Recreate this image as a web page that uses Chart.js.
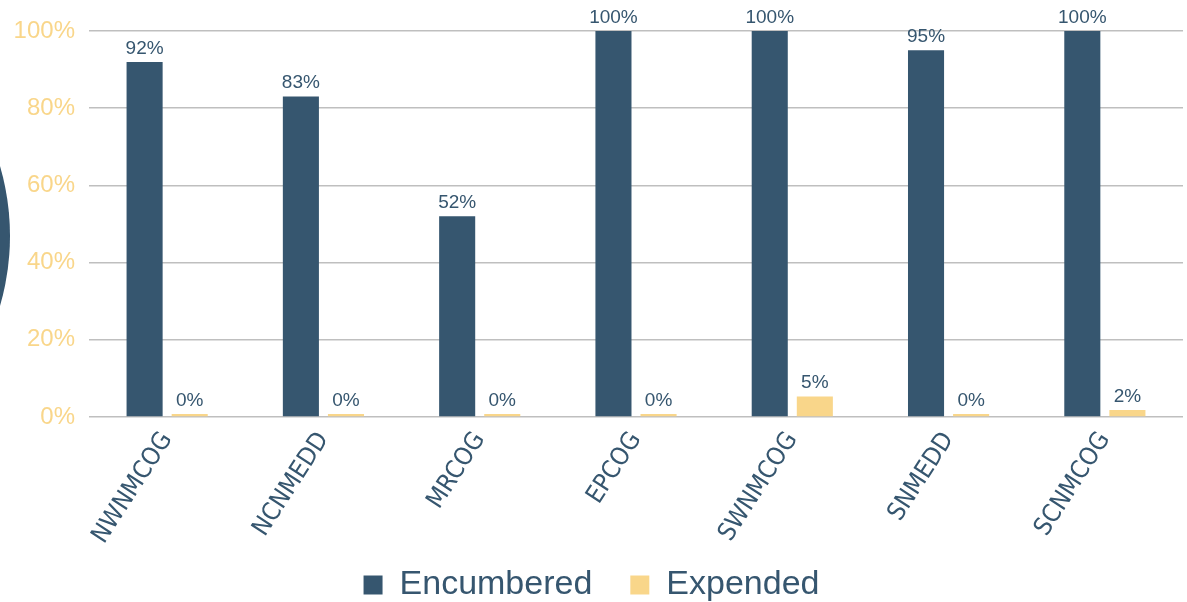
<!DOCTYPE html>
<html>
<head>
<meta charset="utf-8">
<script src="https://cdn.jsdelivr.net/npm/chart.js@4.4.0/dist/chart.umd.min.js"></script>
<style>
  html, body { margin: 0; padding: 0; background: #fff; overflow: hidden; }
  #wrap { position: relative; width: 1187px; height: 602px; overflow: hidden; }
  /* slide decoration peeking in at the left edge */
  #ring { position: absolute; width: 500px; height: 500px; border-radius: 50%;
          background: #36566F; left: -490px; top: -14px; }
  #chartCanvas { position: absolute; left: 0; top: 0; }
</style>
</head>
<body>
<div id="wrap">
  <div id="ring"></div>
  <canvas id="chartCanvas" width="1187" height="612"></canvas>
</div>
<script>
// Chart data
const categories = ['NWNMCOG', 'NCNMEDD', 'MRCOG', 'EPCOG', 'SWNMCOG', 'SNMEDD', 'SCNMCOG'];
const encumbered = [92, 83, 52, 100, 100, 95, 100];
const expended = [0.49, 0.49, 0.49, 0.49, 5.3, 0.49, 1.8];
const yTicks = [0, 20, 40, 60, 80, 100];

const DARK = '#36566F';
const GOLD = '#F9D68A';
const FONT = '"Liberation Sans", Arial, sans-serif';
const NARROW = '"DejaVu Sans Condensed", "Liberation Sans", sans-serif';

// Draw value labels above each bar
const valueLabels = {
  id: 'valueLabels',
  afterDatasetsDraw(chart) {
    const ctx = chart.ctx;
    ctx.save();
    ctx.font = '19px ' + FONT;
    ctx.fillStyle = DARK;
    ctx.textAlign = 'center';
    ctx.textBaseline = 'bottom';
    chart.data.datasets.forEach((ds, i) => {
      chart.getDatasetMeta(i).data.forEach((bar, j) => {
        ctx.fillText(Math.round(ds.data[j]) + '%', bar.x, bar.y - 4);
      });
    });
    ctx.restore();
  }
};

try {
  const ctx = document.querySelector('#chartCanvas').getContext('2d');
  new Chart(ctx, {
    type: 'bar',
    data: {
      labels: categories,
      datasets: [
        { label: 'Encumbered', data: encumbered, backgroundColor: DARK },
        { label: 'Expended', data: expended, backgroundColor: GOLD, minBarLength: 3 }
      ]
    },
    options: {
      responsive: false,
      animation: false,
      devicePixelRatio: 1,
      layout: { padding: { top: 31, right: 4, left: 0, bottom: 0 } },
      datasets: { bar: { categoryPercentage: 0.577, barPercentage: 0.8 } },
      plugins: {
        tooltip: { enabled: false },
        legend: {
          position: 'bottom',
          labels: {
            color: DARK,
            font: { family: FONT, size: 34 },
            boxWidth: 19,
            boxHeight: 19,
            padding: 4,
            generateLabels(chart) {
              const items = Chart.defaults.plugins.legend.labels.generateLabels(chart);
              // a little air between the two entries
              items[0].text += '\u2002\u2002';
              return items;
            }
          }
        }
      },
      scales: {
        x: {
          grid: { display: false },
          border: { display: false },
          ticks: {
            color: DARK,
            font: { family: NARROW, size: 25 },
            minRotation: 57,
            maxRotation: 57,
            padding: 2
          },
          afterFit(axis) { axis.height = 147; }
        },
        y: {
          min: 0,
          max: 100,
          afterBuildTicks(axis) { axis.ticks = yTicks.map(v => ({ value: v })); },
          grid: { color: '#BFBFBF', lineWidth: 1.5, drawTicks: false },
          border: { display: false },
          ticks: {
            color: GOLD,
            font: { family: FONT, size: 24 },
            padding: 14,
            callback: v => v + '%'
          },
          afterFit(axis) { axis.width = 89; }
        }
      }
    },
    plugins: [valueLabels]
  });
} catch (error) {
  console.error('Error initializing chart:', error);
}
</script>
</body>
</html>
